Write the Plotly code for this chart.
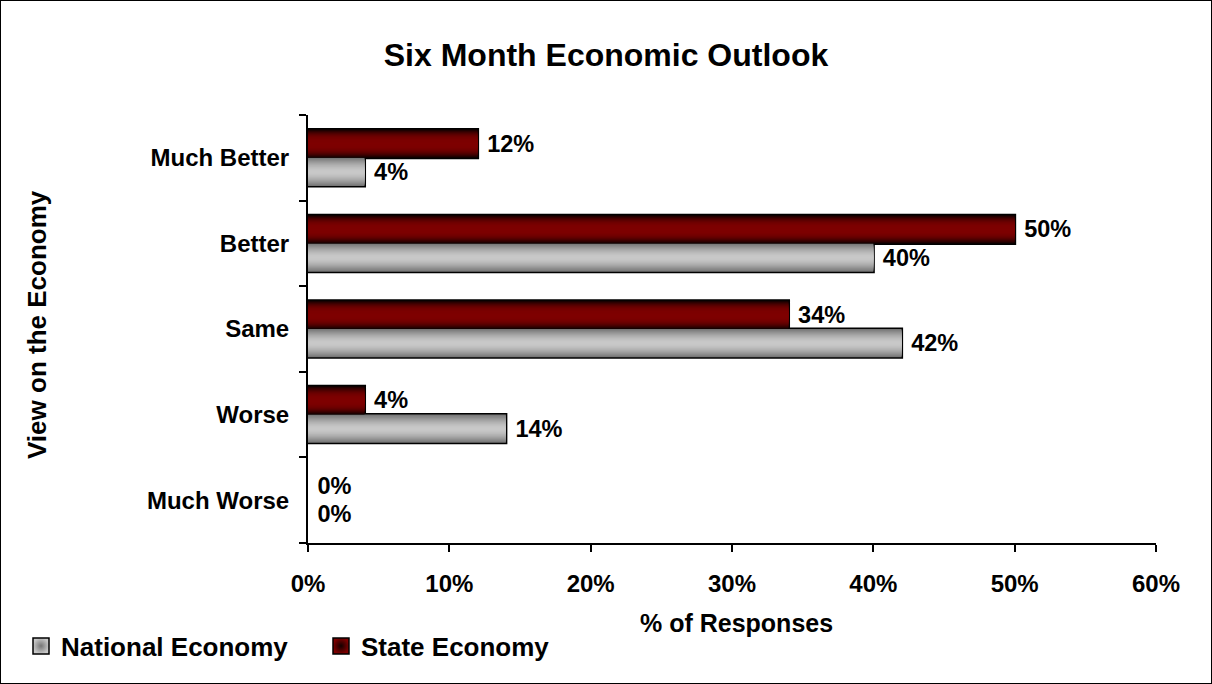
import plotly.graph_objects as go

# Survey results (percent of responses), listed top to bottom as displayed
categories = ["Much Better", "Better", "Same", "Worse", "Much Worse"]
state_economy = [12, 50, 34, 4, 0]
national_economy = [4, 40, 42, 14, 0]
x_ticks = [0, 10, 20, 30, 40, 50, 60]
x_tick_labels = [f"{v}%" for v in x_ticks]

FONT = "Liberation Sans, Arial, sans-serif"
W, H = 1212, 684
M_L, M_R, M_T, M_B = 308, 56, 115, 141
PW, PH = W - M_L - M_R, H - M_T - M_B

BAR_W = 0.33  # thickness of each bar in category units
N_LAYERS = 14


def rgb_str(rgb):
    return "rgb({},{},{})".format(*rgb)


def shade(edge, center, k, power):
    """Blend from the edge colour (k=0) to the centre colour (k=1)."""
    k = 1 - (1 - k) ** power
    return rgb_str([round(e + (c - e) * k) for e, c in zip(edge, center)])


series = [
    # name, values, offset, flat colour, edge rgb, centre rgb, curve
    ("National Economy", national_economy, -BAR_W, "#b0b0b0", (118, 118, 118), (200, 200, 200), 1.6),
    ("State Economy", state_economy, 0.0, "#7a0000", (20, 0, 0), (126, 0, 0), 2.6),
]

fig = go.Figure()

# Outlined base bars carry the value labels
for name, vals, off, flat, _, _, _ in series:
    fig.add_trace(go.Bar(
        name=name,
        y=categories,
        x=vals,
        orientation="h",
        offset=off,
        width=BAR_W,
        marker=dict(color=flat, line=dict(color="black", width=[3 if v > 0 else 0 for v in vals])),
        text=[f"\u00a0{v}%" for v in vals],
        texttemplate="%{text}",
        textposition="outside",
        constraintext="none",
        cliponaxis=False,
        textfont=dict(family=FONT, size=23.5, color="black", weight="bold"),
        hoverinfo="x+name",
        showlegend=False,
    ))

# Cylindrical shading: nested bars, each thinner and lighter than the last
for name, vals, off, _, edge, center, power in series:
    mid = off + BAR_W / 2
    for i in range(N_LAYERS):
        thick = BAR_W * (1 - i / N_LAYERS)
        fig.add_trace(go.Bar(
            y=categories,
            x=vals,
            orientation="h",
            offset=mid - thick / 2,
            width=thick,
            marker=dict(color=shade(edge, center, i / (N_LAYERS - 1), power), line=dict(width=0)),
            showlegend=False,
            hoverinfo="skip",
        ))

# Legend keys: shaded squares
for name, _, _, _, edge, center, _ in series:
    fig.add_trace(go.Scatter(
        name=name,
        x=[None],
        y=[None],
        mode="markers",
        marker=dict(
            symbol="square",
            size=17,
            color=rgb_str(center),
            gradient=dict(type="radial", color=rgb_str(edge)),
            line=dict(color="black", width=1.5),
        ),
        hoverinfo="skip",
    ))

fig.update_layout(
    width=W,
    height=H,
    margin=dict(l=M_L, r=M_R, t=M_T, b=M_B),
    paper_bgcolor="white",
    plot_bgcolor="white",
    barmode="overlay",
    font=dict(family=FONT, color="black"),
    title=dict(
        text="Six Month Economic Outlook",
        x=0.5,
        xanchor="center",
        y=1 - 55 / H,
        yanchor="middle",
        yref="container",
        font=dict(family=FONT, size=32, color="black", weight="bold"),
    ),
    xaxis=dict(
        range=[0, 60],
        tickvals=x_ticks,
        ticktext=x_tick_labels,
        ticks="outside",
        ticklen=7,
        tickwidth=2,
        tickcolor="black",
        showline=True,
        linecolor="black",
        linewidth=2,
        showgrid=False,
        zeroline=False,
        ticklabelstandoff=11,
        tickfont=dict(family=FONT, size=24, color="black", weight="bold"),
    ),
    yaxis=dict(
        type="category",
        categoryorder="array",
        categoryarray=categories[::-1],
        tickson="boundaries",
        ticks="outside",
        ticklen=7,
        tickwidth=2,
        tickcolor="black",
        showline=True,
        linecolor="black",
        linewidth=2,
        showgrid=False,
        zeroline=False,
        ticklabelstandoff=12,
        tickfont=dict(family=FONT, size=24, color="black", weight="bold"),
    ),
    legend=dict(
        orientation="h",
        x=(21 - M_L) / PW,
        xanchor="left",
        y=(M_T + PH - 646) / PH,
        yanchor="middle",
        traceorder="normal",
        entrywidth=255,
        font=dict(family=FONT, size=26, color="black", weight="bold"),
        bgcolor="rgba(0,0,0,0)",
    ),
    annotations=[
        dict(
            text="View on the Economy",
            xref="paper", yref="paper",
            x=(37 - M_L) / PW, y=(M_T + PH - 325) / PH,
            xanchor="center", yanchor="middle",
            textangle=-90, showarrow=False,
            font=dict(family=FONT, size=26, color="black", weight="bold"),
        ),
        dict(
            text="% of Responses",
            xref="paper", yref="paper",
            x=(736 - M_L) / PW, y=(M_T + PH - 623) / PH,
            xanchor="center", yanchor="middle",
            showarrow=False,
            font=dict(family=FONT, size=25, color="black", weight="bold"),
        ),
    ],
    shapes=[
        # frame around the whole chart
        dict(
            type="rect", xref="paper", yref="paper",
            x0=-M_L / PW, x1=1 + M_R / PW,
            y0=-M_B / PH, y1=1 + M_T / PH,
            line=dict(color="black", width=2),
            fillcolor="rgba(0,0,0,0)",
            layer="above",
        ),
    ],
)

fig.write_html("out.html")
